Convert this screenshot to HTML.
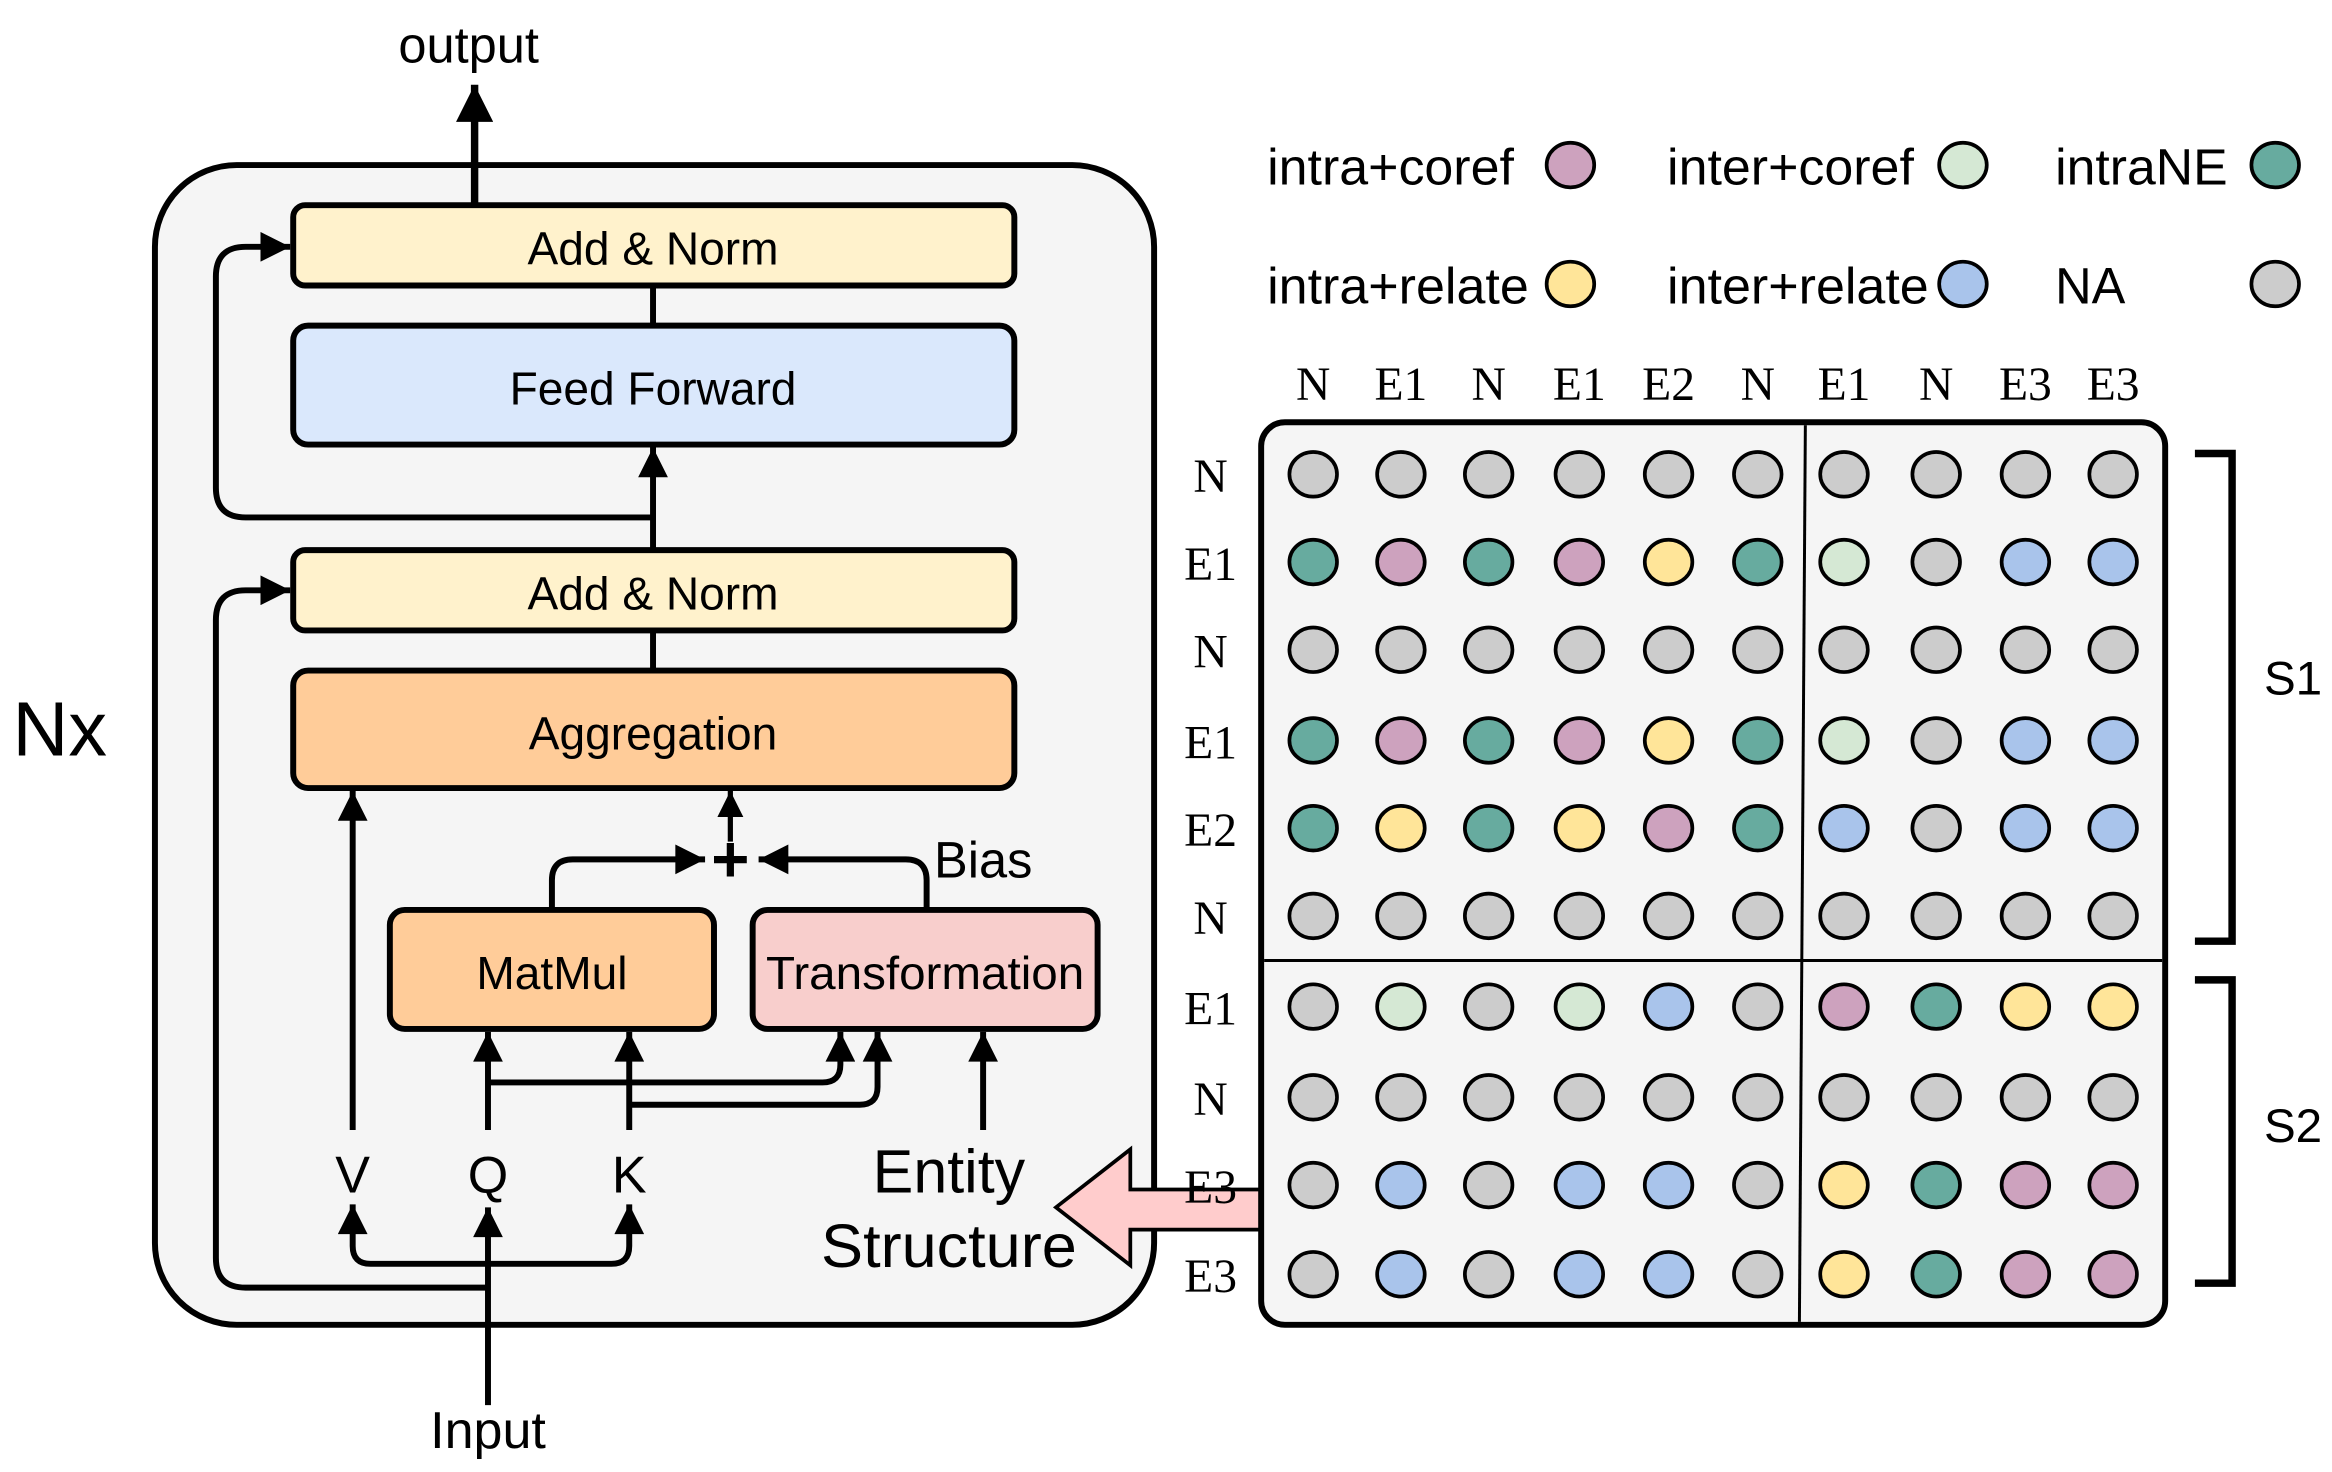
<!DOCTYPE html>
<html><head><meta charset="utf-8"><style>
html,body{margin:0;padding:0;background:#fff;}
svg{display:block;}
text{font-family:"Liberation Sans",sans-serif;fill:#000;}
.s{font-family:"Liberation Serif",serif;}
.g{fill:#cccccc}.t{fill:#67ab9f}.p{fill:#cda2be}.y{fill:#ffe599}.l{fill:#d5e8d4}.b{fill:#a9c4eb}
</style></head><body>
<svg width="2332" height="1472" viewBox="0 0 1568 990" xmlns="http://www.w3.org/2000/svg">
<defs>
<marker id="a" viewBox="0 0 10 10" refX="10" refY="5" markerWidth="5.5" markerHeight="5" orient="auto" markerUnits="strokeWidth"><path d="M0,0 L10,5 L0,10 z" fill="#000"/></marker>
</defs>
<rect x="104" y="111" width="672" height="780" rx="55" fill="#f5f5f5" stroke="#000" stroke-width="4"/>
<text x="40" y="508" font-size="52" text-anchor="middle">Nx</text>
<text x="315" y="42" font-size="34" text-anchor="middle">output</text>
<line x1="319" y1="138" x2="319" y2="57" stroke="#000" stroke-width="5" marker-end="url(#a)"/>
<rect x="197" y="138" width="485" height="54" rx="8" fill="#fff2cc" stroke="#000" stroke-width="4"/>
<text x="439" y="178" font-size="31" text-anchor="middle">Add &amp; Norm</text>
<rect x="197" y="219" width="485" height="80" rx="10" fill="#dae8fc" stroke="#000" stroke-width="4"/>
<text x="439" y="272" font-size="31" text-anchor="middle">Feed Forward</text>
<rect x="197" y="370" width="485" height="54" rx="8" fill="#fff2cc" stroke="#000" stroke-width="4"/>
<text x="439" y="410" font-size="31" text-anchor="middle">Add &amp; Norm</text>
<rect x="197" y="451" width="485" height="79" rx="10" fill="#ffcc99" stroke="#000" stroke-width="4"/>
<text x="439" y="504" font-size="31" text-anchor="middle">Aggregation</text>
<rect x="262" y="612" width="218" height="80" rx="10" fill="#ffcc99" stroke="#000" stroke-width="4"/>
<text x="371" y="665" font-size="31" text-anchor="middle">MatMul</text>
<rect x="506" y="612" width="232" height="80" rx="10" fill="#f8cecc" stroke="#000" stroke-width="4"/>
<text x="622" y="665" font-size="31" text-anchor="middle" textLength="214" lengthAdjust="spacingAndGlyphs">Transformation</text>
<g stroke="#000" stroke-width="4" fill="none">
<line x1="439" y1="192" x2="439" y2="219"/>
<line x1="439" y1="424" x2="439" y2="451"/>
<line x1="439" y1="370" x2="439" y2="301" marker-end="url(#a)"/>
<path d="M439,348 H165 Q145,348 145,328 V186 Q145,166 165,166 H195" marker-end="url(#a)"/>
<path d="M328,866 H165 Q145,866 145,846 V417 Q145,397 165,397 H195" marker-end="url(#a)"/>
<line x1="237" y1="760" x2="237" y2="532" marker-end="url(#a)"/>
<line x1="491" y1="566" x2="491" y2="532" stroke-width="3.5" marker-end="url(#a)"/>
<path d="M371,612 V592 Q371,578 385,578 H474" marker-end="url(#a)"/>
<path d="M623,612 V592 Q623,578 609,578 H510" marker-end="url(#a)"/>
<line x1="328" y1="760" x2="328" y2="694" marker-end="url(#a)"/>
<line x1="423" y1="760" x2="423" y2="694" marker-end="url(#a)"/>
<path d="M328,728 H553 Q565,728 565,716 V694" marker-end="url(#a)"/>
<path d="M423,743 H578 Q590,743 590,731 V694" marker-end="url(#a)"/>
<line x1="661" y1="760" x2="661" y2="694" marker-end="url(#a)"/>
<line x1="328" y1="945" x2="328" y2="812" marker-end="url(#a)"/>
<path d="M328,850 H249 Q237,850 237,838 V810" marker-end="url(#a)"/>
<path d="M328,850 H411 Q423,850 423,838 V810" marker-end="url(#a)"/>
</g>
<text x="491" y="593" font-size="44" font-weight="bold" text-anchor="middle">+</text>
<text x="628" y="590" font-size="34">Bias</text>
<text x="237" y="802" font-size="35" text-anchor="middle">V</text>
<text x="328" y="802" font-size="35" text-anchor="middle">Q</text>
<text x="423" y="802" font-size="35" text-anchor="middle">K</text>
<text x="638" y="802" font-size="41" text-anchor="middle">Entity</text>
<text x="638" y="852" font-size="41" text-anchor="middle" textLength="172" lengthAdjust="spacingAndGlyphs">Structure</text>
<text x="328" y="974" font-size="35" text-anchor="middle">Input</text>
<path d="M848,800 H760 V773 L710,812 L760,851 V827 H848 Z" fill="#ffcccc" stroke="#000" stroke-width="2.5"/>
<g font-size="34">
<text x="852" y="124" textLength="166" lengthAdjust="spacingAndGlyphs">intra+coref</text>
<text x="1121" y="124" textLength="166" lengthAdjust="spacingAndGlyphs">inter+coref</text>
<text x="1382" y="124" textLength="116" lengthAdjust="spacingAndGlyphs">intraNE</text>
<text x="852" y="204" textLength="176" lengthAdjust="spacingAndGlyphs">intra+relate</text>
<text x="1121" y="204" textLength="176" lengthAdjust="spacingAndGlyphs">inter+relate</text>
<text x="1382" y="204">NA</text>
</g>
<g stroke="#000" stroke-width="2.5">
<ellipse cx="1056" cy="111" rx="16" ry="15" class="p"/>
<ellipse cx="1320" cy="111" rx="16" ry="15" class="l"/>
<ellipse cx="1530" cy="111" rx="16" ry="15" class="t"/>
<ellipse cx="1056" cy="191" rx="16" ry="15" class="y"/>
<ellipse cx="1320" cy="191" rx="16" ry="15" class="b"/>
<ellipse cx="1530" cy="191" rx="16" ry="15" class="g"/>
</g>
<rect x="848" y="284" width="608" height="607" rx="16" fill="#f5f5f5" stroke="#000" stroke-width="4"/>
<line x1="1214" y1="286" x2="1210" y2="889" stroke="#000" stroke-width="2"/>
<line x1="850" y1="646" x2="1454" y2="646" stroke="#000" stroke-width="2"/>
<g font-size="32" text-anchor="middle">
<text class="s" x="883" y="269">N</text><text class="s" x="942" y="269">E1</text><text class="s" x="1001" y="269">N</text><text class="s" x="1062" y="269">E1</text><text class="s" x="1122" y="269">E2</text><text class="s" x="1182" y="269">N</text><text class="s" x="1240" y="269">E1</text><text class="s" x="1302" y="269">N</text><text class="s" x="1362" y="269">E3</text><text class="s" x="1421" y="269">E3</text>
<text class="s" x="814" y="331">N</text><text class="s" x="814" y="390">E1</text><text class="s" x="814" y="449">N</text><text class="s" x="814" y="510">E1</text><text class="s" x="814" y="569">E2</text><text class="s" x="814" y="628">N</text><text class="s" x="814" y="689">E1</text><text class="s" x="814" y="750">N</text><text class="s" x="814" y="809">E3</text><text class="s" x="814" y="869">E3</text>
</g>
<g stroke="#000" stroke-width="2.5">
<!-- row 1 N -->
<ellipse cx="883" cy="319" rx="16" ry="15" class="g"/><ellipse cx="942" cy="319" rx="16" ry="15" class="g"/><ellipse cx="1001" cy="319" rx="16" ry="15" class="g"/><ellipse cx="1062" cy="319" rx="16" ry="15" class="g"/><ellipse cx="1122" cy="319" rx="16" ry="15" class="g"/><ellipse cx="1182" cy="319" rx="16" ry="15" class="g"/><ellipse cx="1240" cy="319" rx="16" ry="15" class="g"/><ellipse cx="1302" cy="319" rx="16" ry="15" class="g"/><ellipse cx="1362" cy="319" rx="16" ry="15" class="g"/><ellipse cx="1421" cy="319" rx="16" ry="15" class="g"/>
<!-- row 2 E1 -->
<ellipse cx="883" cy="378" rx="16" ry="15" class="t"/><ellipse cx="942" cy="378" rx="16" ry="15" class="p"/><ellipse cx="1001" cy="378" rx="16" ry="15" class="t"/><ellipse cx="1062" cy="378" rx="16" ry="15" class="p"/><ellipse cx="1122" cy="378" rx="16" ry="15" class="y"/><ellipse cx="1182" cy="378" rx="16" ry="15" class="t"/><ellipse cx="1240" cy="378" rx="16" ry="15" class="l"/><ellipse cx="1302" cy="378" rx="16" ry="15" class="g"/><ellipse cx="1362" cy="378" rx="16" ry="15" class="b"/><ellipse cx="1421" cy="378" rx="16" ry="15" class="b"/>
<!-- row 3 N -->
<ellipse cx="883" cy="437" rx="16" ry="15" class="g"/><ellipse cx="942" cy="437" rx="16" ry="15" class="g"/><ellipse cx="1001" cy="437" rx="16" ry="15" class="g"/><ellipse cx="1062" cy="437" rx="16" ry="15" class="g"/><ellipse cx="1122" cy="437" rx="16" ry="15" class="g"/><ellipse cx="1182" cy="437" rx="16" ry="15" class="g"/><ellipse cx="1240" cy="437" rx="16" ry="15" class="g"/><ellipse cx="1302" cy="437" rx="16" ry="15" class="g"/><ellipse cx="1362" cy="437" rx="16" ry="15" class="g"/><ellipse cx="1421" cy="437" rx="16" ry="15" class="g"/>
<!-- row 4 E1 -->
<ellipse cx="883" cy="498" rx="16" ry="15" class="t"/><ellipse cx="942" cy="498" rx="16" ry="15" class="p"/><ellipse cx="1001" cy="498" rx="16" ry="15" class="t"/><ellipse cx="1062" cy="498" rx="16" ry="15" class="p"/><ellipse cx="1122" cy="498" rx="16" ry="15" class="y"/><ellipse cx="1182" cy="498" rx="16" ry="15" class="t"/><ellipse cx="1240" cy="498" rx="16" ry="15" class="l"/><ellipse cx="1302" cy="498" rx="16" ry="15" class="g"/><ellipse cx="1362" cy="498" rx="16" ry="15" class="b"/><ellipse cx="1421" cy="498" rx="16" ry="15" class="b"/>
<!-- row 5 E2 -->
<ellipse cx="883" cy="557" rx="16" ry="15" class="t"/><ellipse cx="942" cy="557" rx="16" ry="15" class="y"/><ellipse cx="1001" cy="557" rx="16" ry="15" class="t"/><ellipse cx="1062" cy="557" rx="16" ry="15" class="y"/><ellipse cx="1122" cy="557" rx="16" ry="15" class="p"/><ellipse cx="1182" cy="557" rx="16" ry="15" class="t"/><ellipse cx="1240" cy="557" rx="16" ry="15" class="b"/><ellipse cx="1302" cy="557" rx="16" ry="15" class="g"/><ellipse cx="1362" cy="557" rx="16" ry="15" class="b"/><ellipse cx="1421" cy="557" rx="16" ry="15" class="b"/>
<!-- row 6 N -->
<ellipse cx="883" cy="616" rx="16" ry="15" class="g"/><ellipse cx="942" cy="616" rx="16" ry="15" class="g"/><ellipse cx="1001" cy="616" rx="16" ry="15" class="g"/><ellipse cx="1062" cy="616" rx="16" ry="15" class="g"/><ellipse cx="1122" cy="616" rx="16" ry="15" class="g"/><ellipse cx="1182" cy="616" rx="16" ry="15" class="g"/><ellipse cx="1240" cy="616" rx="16" ry="15" class="g"/><ellipse cx="1302" cy="616" rx="16" ry="15" class="g"/><ellipse cx="1362" cy="616" rx="16" ry="15" class="g"/><ellipse cx="1421" cy="616" rx="16" ry="15" class="g"/>
<!-- row 7 E1 -->
<ellipse cx="883" cy="677" rx="16" ry="15" class="g"/><ellipse cx="942" cy="677" rx="16" ry="15" class="l"/><ellipse cx="1001" cy="677" rx="16" ry="15" class="g"/><ellipse cx="1062" cy="677" rx="16" ry="15" class="l"/><ellipse cx="1122" cy="677" rx="16" ry="15" class="b"/><ellipse cx="1182" cy="677" rx="16" ry="15" class="g"/><ellipse cx="1240" cy="677" rx="16" ry="15" class="p"/><ellipse cx="1302" cy="677" rx="16" ry="15" class="t"/><ellipse cx="1362" cy="677" rx="16" ry="15" class="y"/><ellipse cx="1421" cy="677" rx="16" ry="15" class="y"/>
<!-- row 8 N -->
<ellipse cx="883" cy="738" rx="16" ry="15" class="g"/><ellipse cx="942" cy="738" rx="16" ry="15" class="g"/><ellipse cx="1001" cy="738" rx="16" ry="15" class="g"/><ellipse cx="1062" cy="738" rx="16" ry="15" class="g"/><ellipse cx="1122" cy="738" rx="16" ry="15" class="g"/><ellipse cx="1182" cy="738" rx="16" ry="15" class="g"/><ellipse cx="1240" cy="738" rx="16" ry="15" class="g"/><ellipse cx="1302" cy="738" rx="16" ry="15" class="g"/><ellipse cx="1362" cy="738" rx="16" ry="15" class="g"/><ellipse cx="1421" cy="738" rx="16" ry="15" class="g"/>
<!-- row 9 E3 -->
<ellipse cx="883" cy="797" rx="16" ry="15" class="g"/><ellipse cx="942" cy="797" rx="16" ry="15" class="b"/><ellipse cx="1001" cy="797" rx="16" ry="15" class="g"/><ellipse cx="1062" cy="797" rx="16" ry="15" class="b"/><ellipse cx="1122" cy="797" rx="16" ry="15" class="b"/><ellipse cx="1182" cy="797" rx="16" ry="15" class="g"/><ellipse cx="1240" cy="797" rx="16" ry="15" class="y"/><ellipse cx="1302" cy="797" rx="16" ry="15" class="t"/><ellipse cx="1362" cy="797" rx="16" ry="15" class="p"/><ellipse cx="1421" cy="797" rx="16" ry="15" class="p"/>
<!-- row 10 E3 -->
<ellipse cx="883" cy="857" rx="16" ry="15" class="g"/><ellipse cx="942" cy="857" rx="16" ry="15" class="b"/><ellipse cx="1001" cy="857" rx="16" ry="15" class="g"/><ellipse cx="1062" cy="857" rx="16" ry="15" class="b"/><ellipse cx="1122" cy="857" rx="16" ry="15" class="b"/><ellipse cx="1182" cy="857" rx="16" ry="15" class="g"/><ellipse cx="1240" cy="857" rx="16" ry="15" class="y"/><ellipse cx="1302" cy="857" rx="16" ry="15" class="t"/><ellipse cx="1362" cy="857" rx="16" ry="15" class="p"/><ellipse cx="1421" cy="857" rx="16" ry="15" class="p"/>
</g>
<path d="M1476,305 H1501 V633 H1476" fill="none" stroke="#000" stroke-width="5"/>
<path d="M1476,659 H1501 V863 H1476" fill="none" stroke="#000" stroke-width="5"/>
<text x="1542" y="467" font-size="32" text-anchor="middle">S1</text>
<text x="1542" y="768" font-size="32" text-anchor="middle">S2</text>
</svg>
</body></html>
